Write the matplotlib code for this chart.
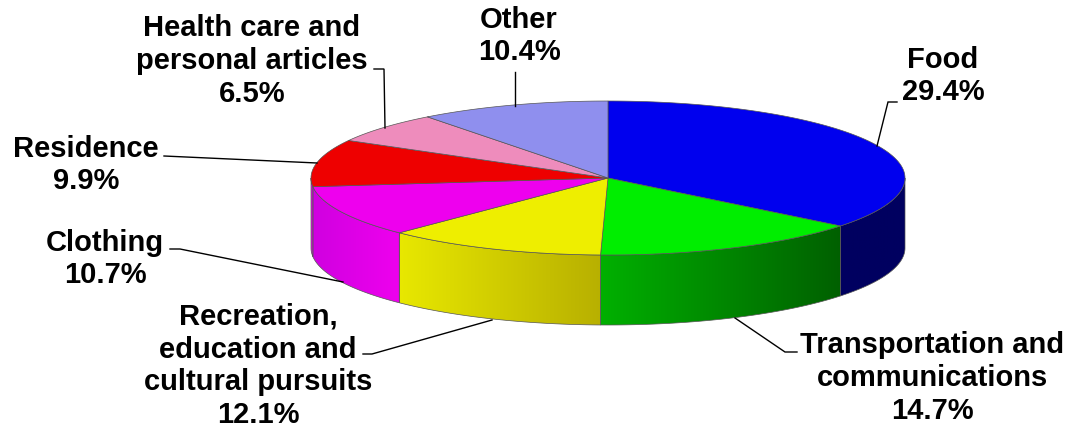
import numpy as np
import matplotlib
matplotlib.use('Agg')
import matplotlib.pyplot as plt
from matplotlib.colors import to_rgb
from matplotlib.patches import Polygon

# Slice order starts at 12 o'clock and runs clockwise
categories = ['Food', 'Transportation and\ncommunications', 'Recreation,\neducation and\ncultural pursuits',
              'Clothing', 'Residence', 'Health care and\npersonal articles', 'Other']
printed_values = ['29.4%', '14.7%', '12.1%', '10.7%', '9.9%', '6.5%', '10.4%']
# Shares as the slices are actually drawn (Food is bigger than its printed label)
shares = [35.7, 14.7, 12.0, 10.8, 9.9, 6.5, 10.4]

top_colors = ['#0000ee', '#00ee00', '#eeee00', '#ee00ee', '#ee0000', '#ee8cbc', '#8f8fee']
side_left = ['#000060', '#00b000', '#e8e800', '#d000e0', '#ee00ee', '#ee8cbc', '#8f8fee']
side_right = ['#000060', '#006000', '#b8b000', '#ee00ee', '#ee00ee', '#ee8cbc', '#8f8fee']

label_pos = [(943, 76), (932, 378), (258, 366), (105, 259), (86, 165), (252, 61), (519, 36)]
leaders = [
    [(897, 102), (888, 102), (877, 146)],
    [(797, 352), (785, 352), (735, 318)],
    [(363, 354), (372, 354), (492, 320)],
    [(170, 249), (180, 249), (343, 282)],
    [(164, 156), (317, 163)],
    [(374, 69), (384, 69), (385, 128)],
    [(515, 72), (515, 106)],
]

cx, cy, rx, ry, depth = 608, 178, 297, 77, 70


def rim(t, drop=0):
    t = np.radians(t)
    return cx + rx * np.sin(t), cy - ry * np.cos(t) + drop


fig = plt.figure(figsize=(10.7, 4.28), dpi=100)
ax = fig.add_axes([0, 0, 1, 1])
ax.set_xlim(0, 1070)
ax.set_ylim(428, 0)
ax.axis('off')

edges = np.concatenate([[0], np.cumsum(shares) / np.sum(shares) * 360])

# Side wall, only the front half of the rim shows
for i in range(len(shares)):
    a, b = max(edges[i], 90), min(edges[i + 1], 270)
    if b <= a:
        continue
    t = np.linspace(a, b, 80)
    x1, y1 = rim(t)
    x2, y2 = rim(t[::-1], depth)
    xs = np.concatenate([x1, x2])
    ys = np.concatenate([y1, y2])
    poly = Polygon(np.column_stack([xs, ys]), closed=True, fc='none', ec='#555555', lw=0.5, zorder=3)
    ax.add_patch(poly)
    c1, c2 = np.array(to_rgb(side_left[i])), np.array(to_rgb(side_right[i]))
    grad = np.linspace(0, 1, 128)[None, :, None] * (c2 - c1) + c1
    im = ax.imshow(grad, extent=[xs.min(), xs.max(), ys.max(), ys.min()], aspect='auto', zorder=2)
    im.set_clip_path(poly)

ax.set_xlim(0, 1070)
ax.set_ylim(428, 0)

# Top face
for i, color in enumerate(top_colors):
    t = np.linspace(edges[i], edges[i + 1], 120)
    x, y = rim(t)
    ax.fill(np.r_[cx, x], np.r_[cy, y], fc=color, ec='#555555', lw=0.5, zorder=4)

for line in leaders:
    xy = np.array(line)
    ax.plot(xy[:, 0], xy[:, 1], color='black', lw=1.0, zorder=5, solid_joinstyle='miter')

for name, val, (x, y) in zip(categories, printed_values, label_pos):
    ax.text(x, y, name + '\n' + val, ha='center', va='center', family='Liberation Sans',
            fontweight='bold', fontsize=21, linespacing=1.22, color='black', zorder=6)

fig.savefig('out.png', dpi=100)
